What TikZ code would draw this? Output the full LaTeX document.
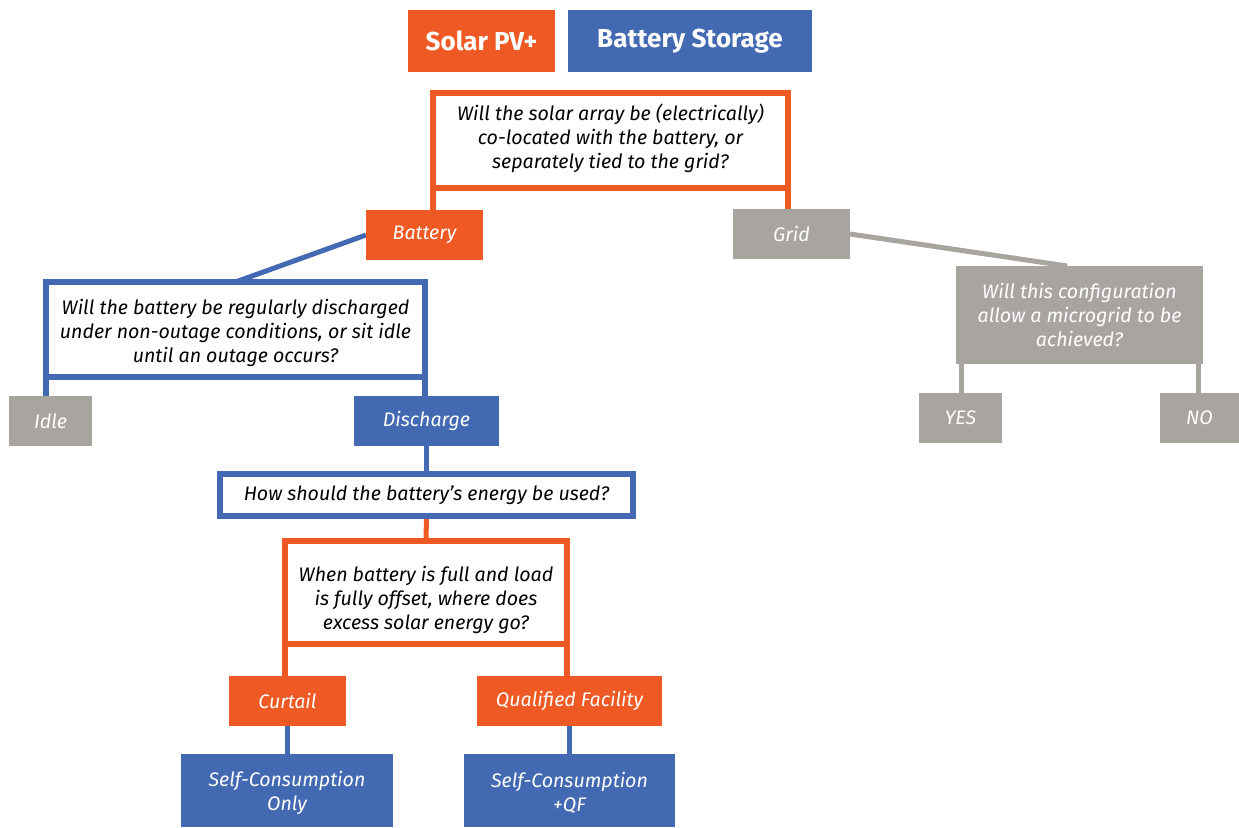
\documentclass[tikz,border=0pt]{standalone}
\usepackage{fontspec}
\setmainfont{Fira Sans}
\usetikzlibrary{calc,backgrounds}
\definecolor{cor}{RGB}{239,89,35}
\definecolor{cbl}{RGB}{66,105,177}
\definecolor{cgr}{RGB}{168,164,159}
\tikzset{
  every node/.style={inner sep=0pt, outer sep=0pt, align=center},
  tfont/.style={font=\fontsize{19.6}{24}\selectfont\itshape},
  fillbox/.style={tfont, fill=#1, text=white},
  qbox/.style={draw=#1, line width=6pt, fill=white},
  qlab/.style={tfont, text=#1},
  title/.style={fill=#1, text=white, font=\fontsize{26}{30}\selectfont\bfseries},
  conn/.style={draw=#1, line width=5pt},
  side/.style={draw=#1, line width=6pt},
}
\begin{document}
\begin{tikzpicture}[x=1pt,y=-1pt]
\useasboundingbox (0,0) rectangle (1239,827);
% titles
\node[title=cor, minimum width=147pt, minimum height=62pt] (solar) at (481.5,41) {Solar PV+};
\node[title=cbl, minimum width=244pt, minimum height=62pt] (storage) at (690,41) {Battery Storage};
% question 1
\node[qbox=cor, minimum width=355pt, minimum height=95pt,
  label={[qlab=black, yshift=2pt]center:{Will the solar array be (electrically)\\co-located with the battery, or\\separately tied to the grid?}}]
  (q1) at (610.5,140.5) {};
\node[fillbox=cor, minimum width=117pt, minimum height=50pt] (battery) at (424.5,235) {Battery};
\node[fillbox=cgr, minimum width=117pt, minimum height=50pt] (grid) at (791.5,234) {Grid};
% question 2
\node[qbox=cbl, minimum width=379pt, minimum height=95pt,
  label={[qlab=black, yshift=-3pt]center:{Will the battery be regularly discharged\\under non-outage conditions, or sit idle\\until an outage occurs?}}]
  (q2) at (235.5,329.5) {};
\node[fillbox=cgr, minimum width=83pt, minimum height=50pt] (idle) at (50.5,421) {Idle};
\node[fillbox=cbl, minimum width=145pt, minimum height=50pt] (discharge) at (426.5,421) {Discharge};
% question 3
\node[fillbox=cgr, minimum width=247pt, minimum height=98pt] (q3) at (1079.5,315)
  {Will this configuration\\allow a microgrid to be\\achieved?};
\node[fillbox=cgr, minimum width=83pt, minimum height=50pt] (yes) at (960.5,418) {YES};
\node[fillbox=cgr, minimum width=79pt, minimum height=50pt] (no) at (1199.5,418) {NO};
% question 4
\node[qbox=cbl, tfont, minimum width=413pt, minimum height=42pt] (q4) at (426.5,495)
  {How should the battery’s energy be used?};
% question 5
\node[qbox=cor, minimum width=282pt, minimum height=103pt,
  label={[qlab=black, yshift=-7pt]center:{When battery is full and load\\is fully offset, where does\\excess solar energy go?}}]
  (q5) at (426,592.75) {};
\node[fillbox=cor, minimum width=117pt, minimum height=50pt] (curtail) at (287.5,701) {Curtail};
\node[fillbox=cor, minimum width=185pt, minimum height=50pt] (qf) at (569.5,701) {Qualified Facility};
\node[fill=cbl, minimum width=212pt, minimum height=73pt,
  label={[qlab=white, yshift=-2pt]center:{Self-Consumption\\Only}}] (sco) at (287,790.5) {};
\node[fill=cbl, minimum width=211pt, minimum height=73pt,
  label={[qlab=white, yshift=-2pt]center:{Self-Consumption\\+QF}}] (scqf) at (569.5,790.5) {};
% connectors
\coordinate (q3l) at ([xshift=5pt]q3.south west);
\coordinate (q3r) at ([xshift=-4.5pt]q3.south east);
\coordinate (q3top) at ($(q3.north west)!0.45!(q3.north east)$);
\begin{scope}[on background layer]
\draw[side=cor] (q1.south west) -- (q1.south west |- battery.north);
\draw[side=cor] (q1.south east) -- (q1.south east |- grid.north);
\draw[conn=cbl] (battery.west) -- (q2.north);
\draw[conn=cgr] (grid.east) -- (q3top);
\draw[side=cbl] (q2.south west) -- (q2.south west |- idle.north);
\draw[side=cbl] (q2.south east) -- (q2.south east |- discharge.north);
\draw[conn=cgr] (q3l) -- (q3l |- yes.north);
\draw[conn=cgr] (q3r) -- (q3r |- no.north);
\draw[conn=cbl] (discharge.south) -- (q4.north);
\draw[conn=cor] (q4.south) -- (q5.north);
\draw[side=cor] (q5.south west) -- (q5.south west |- curtail.north);
\draw[side=cor] (q5.south east) -- (q5.south east |- qf.north);
\draw[conn=cbl] (curtail.south) -- (curtail.south |- sco.north);
\draw[conn=cbl] (qf.south) -- (qf.south |- scqf.north);
\end{scope}
\end{tikzpicture}
\end{document}
